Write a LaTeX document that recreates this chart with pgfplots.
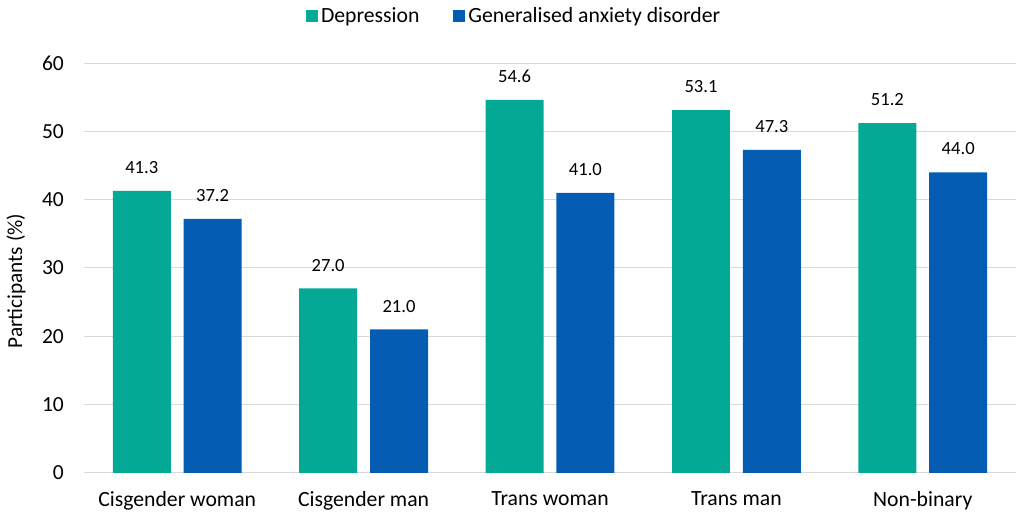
\documentclass[border=0pt]{standalone}
\usepackage{fontspec}
\setmainfont{Carlito}
\usepackage{pgfplots}
\pgfplotsset{compat=1.18}
\definecolor{dep}{RGB}{4,169,150}
\definecolor{gad}{RGB}{4,93,179}
\definecolor{gridc}{RGB}{217,217,217}
\begin{document}
\begin{tikzpicture}
\path[use as bounding box] (0pt,0pt) rectangle (1016pt,513pt);
\begin{axis}[
  at={(84pt,40pt)}, anchor=south west,
  scale only axis, width=932pt, height=410pt,
  ybar, bar width=0.311,
  xmin=-0.5, xmax=4.5, ymin=0, ymax=60,
  enlargelimits=false,
  xtick={0,1,2,3,4},
  xticklabels={Cisgender woman, Cisgender man, Trans woman, Trans man, Non-binary},
  ytick={0,10,20,30,40,50,60},
  /pgf/number format/assume math mode=true,
  axis line style={draw=none},
  tick style={draw=none},
  major tick length=0pt,
  ymajorgrids,
  major grid style={color=gridc, line width=1pt},
  yticklabel style={font=\fontsize{21.5}{25}\selectfont, anchor=east, inner sep=0pt, xshift=-20pt},
  xticklabel style={font=\fontsize{21.7}{25}\selectfont, anchor=north, inner sep=0pt, yshift=-18pt},
  ylabel={Participants (\%)},
  ylabel style={font=\fontsize{21.3}{25}\selectfont, at={(axis description cs:-0.073,0.468)}, anchor=center, rotate=0},
  nodes near coords,
  nodes near coords style={font=\fontsize{18.6}{22}\selectfont, anchor=south, inner sep=0pt, yshift=17pt,
    /pgf/number format/.cd, fixed, fixed zerofill, precision=1, assume math mode=true},
  legend columns=2,
  legend style={draw=none, fill=none, at={(axis description cs:0.462,1.1146)}, anchor=center,
    font=\fontsize{21.7}{25}\selectfont,
    /tikz/every even column/.append style={column sep=30pt},
    nodes={inner sep=3.5pt}},
  legend image code/.code={\fill[#1, draw=none] (0pt,-6pt) rectangle (12pt,6pt);},
]
\addplot[fill=dep, draw=none, bar shift=-0.19] coordinates {(0,41.3) (1,27.0) (2,54.6) (3,53.1) (4,51.2)};
\addplot[fill=gad, draw=none, bar shift=0.19] coordinates {(0,37.2) (1,21.0) (2,41.0) (3,47.3) (4,44.0)};
\legend{Depression, Generalised anxiety disorder}
\end{axis}
\end{tikzpicture}
\end{document}
